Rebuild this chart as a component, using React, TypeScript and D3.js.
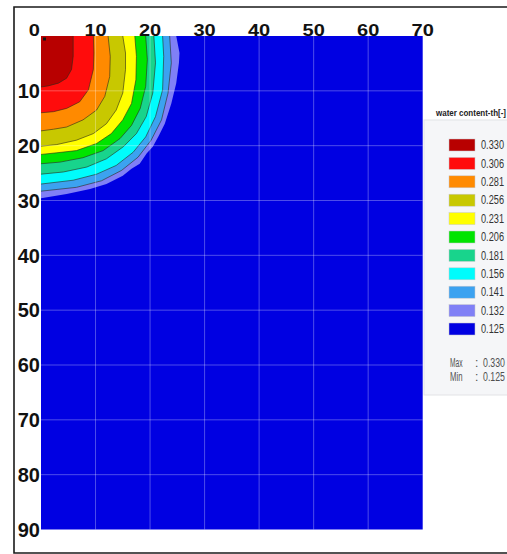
import React from 'react';
import * as d3 from 'd3';

// contour levels (water content) and their colours, top of legend first
const LEVELS = ['0.330', '0.306', '0.281', '0.256', '0.231', '0.206', '0.181', '0.156', '0.141', '0.132', '0.125'];
const COLORS = ['#b80000', '#ff0c0c', '#ff8a00', '#c8c800', '#ffff00', '#00e400', '#18d48c', '#00fcfc', '#3ca2f0', '#8080f6', '#0000e2'];

const X_TICKS = [0, 10, 20, 30, 40, 50, 60, 70];
const Y_TICKS = [10, 20, 30, 40, 50, 60, 70, 80, 90];

// boundary of each band, from the top edge (depth 0) round to the left edge (x 0)
const B330: [number, number][] = [[5.9, 0], [5.9, 3.7], [5.6, 6.1], [4.7, 7.7], [3.2, 8.6], [1.3, 9.1], [0, 9.3]];
const B306: [number, number][] = [[9.6, 0], [9.7, 3.1], [9.6, 6.1], [8.7, 9.8], [7.1, 12], [4.7, 13.2], [2.3, 13.8], [0, 14]];
const B281: [number, number][] = [[12.3, 0], [12.7, 3.7], [12.6, 7.4], [11.7, 11], [10.2, 13.5], [7.7, 15.3], [4.7, 16.6], [2.3, 17], [0, 17.3]];
const B256: [number, number][] = [[15, 0], [15.5, 3.1], [15.5, 6.1], [15, 10.4], [13.8, 13.5], [12, 16], [9.6, 17.8], [6.5, 19], [2.9, 19.8], [0, 20.1]];
const B231: [number, number][] = [[17.2, 0], [17.5, 3.7], [17.4, 8], [16.6, 12.3], [15, 15.3], [12.9, 17.8], [10.2, 19.6], [6.5, 20.9], [2.9, 21.3], [0, 21.6]];
const B206: [number, number][] = [[19.2, 0], [19.5, 4.3], [19.2, 9.2], [18.2, 13.2], [16.6, 16.3], [14.5, 18.7], [11.4, 20.9], [7.7, 22.2], [3.5, 23], [0, 23.3]];
const B181: [number, number][] = [[20.7, 0], [21, 4.9], [20.5, 10.4], [19.3, 14.7], [17.5, 17.8], [15.1, 20.2], [12, 22.4], [8.4, 23.9], [4.1, 24.8], [0, 25.2]];
const B156: [number, number][] = [[22.3, 0], [22.5, 3.7], [22.3, 9.8], [21, 14.7], [19.2, 18.4], [16.9, 21.2], [13.8, 23.6], [10.2, 25.2], [5.9, 26.3], [0, 27]];
const B141: [number, number][] = [[23.6, 0], [23.9, 4.9], [23.3, 10.4], [22.1, 15.3], [20.2, 19], [17.8, 22.1], [14.8, 24.5], [11.1, 26.4], [6.5, 27.6], [0, 28.3]];
const B132: [number, number][] = [[24.8, 0], [25.4, 3.1], [25.3, 4.9], [24.8, 8.6], [23.9, 12.3], [22.7, 16], [21.6, 18.2], [20.5, 20.2], [19.4, 21.4], [18.1, 23.3], [16.6, 24.2], [15, 25.5], [12, 27], [9, 27.9], [4.7, 28.8], [0, 29.6]];

const BOUNDS = [B330, B306, B281, B256, B231, B206, B181, B156, B141, B132];

const MAX_VAL = '0.330';
const MIN_VAL = '0.125';

export default function App() {
  const width = 507;
  const height = 554;

  const x = d3.scaleLinear().domain([0, 70]).range([41, 422.7]);
  const y = d3.scaleLinear().domain([0, 90]).range([36, 529.5]);

  const area = d3.line<[number, number]>()
    .x(d => x(d[0]))
    .y(d => y(d[1]));

  const legendY = d3.scaleLinear().domain([0, LEVELS.length - 1]).range([139, 323]);
  const font = '"Liberation Sans", Arial, sans-serif';

  // draw the outer band first so the inner ones sit on top
  const bands = BOUNDS.map((b, i) => ({ b, i })).reverse();

  const stats = [['Max', MAX_VAL, 363], ['Min', MIN_VAL, 377]] as const;

  return (
    <svg width={width} height={height} style={{ position: 'absolute', left: 0, top: 0, background: '#fff' }}>
      <rect x={x(0)} y={y(0)} width={x(70) - x(0)} height={y(90) - y(0)} fill={COLORS[10]} />

      {bands.map(({ b, i }) => (
        <path key={'f' + i}
          d={area([[0, 0], ...b])! + 'Z'}
          fill={COLORS[i]} stroke="none" />
      ))}
      {bands.filter(({ i }) => i < 9).map(({ b, i }) => (
        <path key={'l' + i} d={area(b)!} fill="none" stroke="#2a2a1a" strokeOpacity={0.75} strokeWidth={0.8} />
      ))}

      {X_TICKS.slice(1, -1).map(t => (
        <line key={'gx' + t} x1={x(t)} x2={x(t)} y1={y(0)} y2={y(90)} stroke="#fff" strokeOpacity={0.3} strokeWidth={1} />
      ))}
      {Y_TICKS.slice(0, -1).map(t => (
        <line key={'gy' + t} x1={x(0)} x2={x(70)} y1={y(t)} y2={y(t)} stroke="#fff" strokeOpacity={0.3} strokeWidth={1} />
      ))}
      <rect x={x(0) + 2} y={y(0) + 1.5} width={3} height={3} fill="#111" />

      {X_TICKS.map(t => (
        <text key={'tx' + t}
          transform={`translate(${t === 0 ? x(t) - 1 : x(t)},36) scale(1,0.8)`}
          textAnchor={t === 0 ? 'end' : 'middle'}
          fontFamily={font} fontWeight="bold" fontSize={20} fill="#111">{t}</text>
      ))}
      {Y_TICKS.map(t => (
        <text key={'ty' + t} x={40} y={y(t)} dy="0.36em" textAnchor="end"
          fontFamily={font} fontWeight="bold" fontSize={20} fill="#111">{t}</text>
      ))}

      <text x={436} y={116} fontFamily={font} fontWeight="bold" fontSize={9.5}
        textLength={70} lengthAdjust="spacingAndGlyphs" fill="#222">water content-th[-]</text>
      <rect x={424} y={120} width={100} height={275} fill="#f5f6f8" stroke="#e2e3e6" strokeWidth={1} />
      {LEVELS.map((lv, i) => (
        <g key={'lg' + i}>
          <rect x={449} y={legendY(i)} width={26} height={12} fill={COLORS[i]} stroke="#c8c8cc" strokeWidth={0.5} />
          <text x={481} y={legendY(i) + 6} dy="0.35em" fontFamily={font} fontSize={12}
            textLength={23} lengthAdjust="spacingAndGlyphs" fill="#333">{lv}</text>
        </g>
      ))}
      {stats.map(([name, val, yy]) => (
        <g key={name} fontFamily={font} fontSize={12} fill="#505050">
          <text x={450} y={yy} dy="0.35em" textLength={12.5} lengthAdjust="spacingAndGlyphs">{name}</text>
          <text x={475} y={yy} dy="0.35em">:</text>
          <text x={483} y={yy} dy="0.35em" textLength={22} lengthAdjust="spacingAndGlyphs">{val}</text>
        </g>
      ))}

      <path d={`M${width + 2},7H14V553H${width + 2}`} fill="none" stroke="#1a1a1a" strokeWidth={1.6} />
    </svg>
  );
}
